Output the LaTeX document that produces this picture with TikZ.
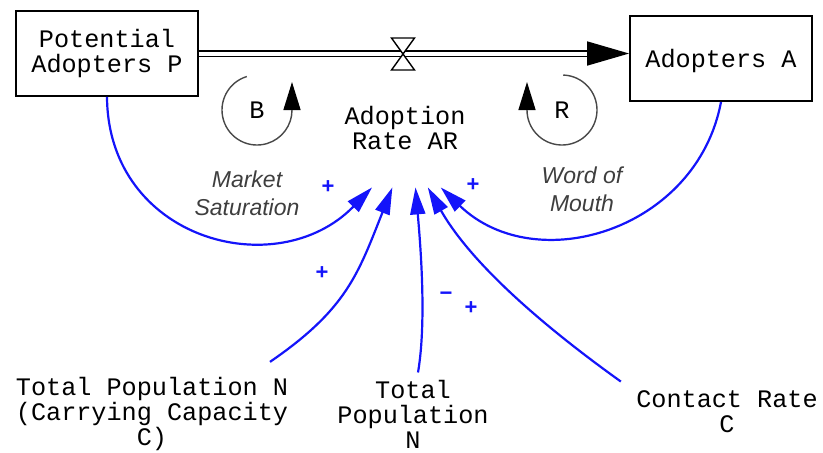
\documentclass[tikz,border=0pt]{standalone}
\usepackage{fontspec}
\setmainfont{Liberation Mono}
\newfontfamily\labelfont{Liberation Sans}
\usetikzlibrary{arrows.meta,calc}
\definecolor{linkblue}{RGB}{20,20,250}
\definecolor{loopgray}{RGB}{72,72,72}
\definecolor{notegray}{RGB}{62,62,62}

\begin{document}
\begin{tikzpicture}[x=0.5pt,y=-0.5pt,
  >={Triangle[length=13.5pt,width=7.5pt]},
  var/.style={font=\fontsize{12.6}{12.5}\selectfont,align=center,inner sep=0pt},
  stock/.style={var,draw,line width=0.9pt,minimum width=91pt,minimum height=42.5pt},
  pipe/.style={draw,line width=0.8pt,double distance=2pt},
  pipehead/.style={line width=0.8pt,-{Triangle[length=21pt,width=12pt]}},
  valve/.style={draw,fill=white,line width=0.7pt,line join=miter},
  loopline/.style={loopgray,line width=0.7pt,-{Triangle[length=14pt,width=8.5pt,black]}},
  link/.style={linkblue,line width=1.1pt,->},
  sign/.style={text=linkblue,font=\labelfont\bfseries\fontsize{11}{11}\selectfont,inner sep=0pt},
  linklabel/.style={text=notegray,font=\labelfont\itshape\fontsize{11.5}{14}\selectfont,
                    align=center,inner sep=0pt}
]
\useasboundingbox (0,0) rectangle (823,452);

% Stocks, the flow variable and the three inputs.
\node[stock] (P) at (107,53.5) {Potential\\Adopters P};
\node[stock,text depth=0pt] (A) at (721,58.5) {Adopters A};
\node[var,minimum width=62pt,minimum height=59pt] (AR) at (405,128) {Adoption\\Rate AR};
\node[var] (TPC) at (152,414) {Total Population N\\(Carrying Capacity\\C)};
\node[var] (TPN) at (413,414) {Total\\Population\\N};
\node[var] (CR)  at (727,412) {Contact Rate\\C};

% Flow pipe with its valve; the pipe ends in a single big head.
\coordinate (valve) at (403,54);
\coordinate (pipeend) at ($(A.west |- P.east)+(-42,0)$);
\draw[pipe] (P.east) -- (pipeend);
\draw[pipehead] (pipeend) -- (A.west |- P.east);
\draw[valve] ($(valve)+(-11.5,-16)$) -- ($(valve)+(11.5,-16)$)
  -- ($(valve)+(-11.5,16)$) -- ($(valve)+(11.5,16)$) -- cycle;

% Loop markers.
\node[var] (Bl) at (257,110) {B};
\node[var] (Rl) at (562,110) {R};
\draw[loopline] (Bl.center) ++(253:35) arc[start angle=253,end angle=0,radius=35] -- ++(0,-28);
\draw[loopline] (Rl.center) ++(-88:35) arc[start angle=-88,end angle=180,radius=35] -- ++(0,-28);

% Causal links, all ending under the rate.
\draw[link] (P.south) .. controls (108,240) and (277,285) .. (AR.-119);
\draw[link] ([shift={(118,-15)}]TPC.north) .. controls (347,309) and (358,274) .. (AR.-102);
\draw[link] ([shift={(5,-7)}]TPN.north) .. controls (427,320) and (420,240) .. (AR.-80);
\draw[link] ([shift={(-15,-9)}]CR.north west) .. controls (546,328) and (472,265) .. (AR.-69);
\draw[link] (A.south) .. controls (697,230) and (536,279) .. (AR.-59);

\node[sign] (s1) at (328,187) {+};
\node[sign] (s2) at (322,273) {+};
\node[sign] (s3) at (446,296) {−};
\node[sign] (s4) at (471,308) {+};
\node[sign] (s5) at (473,185) {+};

\node[linklabel] (ms) at (247,193) {Market\\Saturation};
\node[linklabel] (wm) at (582,189) {Word of\\Mouth};
\end{tikzpicture}
\end{document}
